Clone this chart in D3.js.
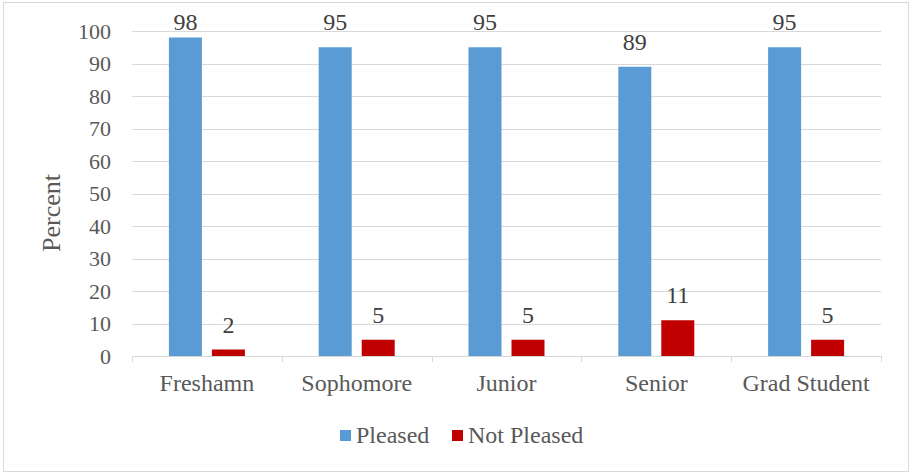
<!DOCTYPE html>
<html><head><meta charset="utf-8">
<script src="https://cdn.jsdelivr.net/npm/d3@7"></script>
<style>body{margin:0;background:#fff}svg{display:block}</style>
</head><body>
<svg id="c" width="912" height="474"></svg>
<script>
const categories = ["Freshamn","Sophomore","Junior","Senior","Grad Student"];
const pleased = [98,95,95,89,95];
const notPleased = [2,5,5,11,5];
const seriesNames = ["Pleased","Not Pleased"];
const yTicks = [0,10,20,30,40,50,60,70,80,90,100];

const colors = ["#5B9BD5","#C00000"];
const font = "'Liberation Serif','Times New Roman',serif";
const svg = d3.select("#c");
svg.append("rect").attr("x",3.5).attr("y",2.5).attr("width",905).attr("height",469)
  .attr("fill","#fff").attr("stroke","#D9D9D9").attr("stroke-width",1);

const L=132,R=881,T=31,B=356;
const x = d3.scaleBand().domain(categories).range([L,R]);
const y = d3.scaleLinear().domain([0,100]).range([B,T]);
const barW=33, gap=10;
const off = (x.bandwidth()-(2*barW+gap))/2;

// grid
svg.append("g").selectAll("line").data(yTicks.filter(d=>d>0)).join("line")
  .attr("x1",L).attr("x2",R).attr("y1",d=>Math.round(y(d))+0.5).attr("y2",d=>Math.round(y(d))+0.5)
  .attr("stroke","#D9D9D9").attr("stroke-width",1);

// y axis labels
const ya = svg.append("g").attr("transform",`translate(${L},0)`)
  .call(d3.axisLeft(y).tickValues(yTicks).tickSize(0).tickPadding(21));
ya.select(".domain").remove();
ya.selectAll("text").attr("font-family",font).attr("font-size",22).attr("fill","#595959");

// bars
const data = categories.map((c,i)=>({c,vals:[pleased[i],notPleased[i]]}));
const g = svg.append("g");
data.forEach(d=>{
  d.vals.forEach((v,j)=>{
    const bx = x(d.c)+off+j*(barW+gap);
    g.append("rect").attr("x",bx).attr("y",y(v)).attr("width",barW).attr("height",B-y(v)).attr("fill",colors[j]);
    g.append("text").attr("x",bx+barW/2).attr("y",Math.max(30,y(v)-17)).attr("text-anchor","middle")
      .attr("font-family",font).attr("font-size",24).attr("fill","#404040").text(v);
  });
});

// x axis
const xa = svg.append("g").attr("transform",`translate(0,${B})`)
  .call(d3.axisBottom(x).tickSize(0).tickPadding(0));
xa.select(".domain").attr("stroke","#D9D9D9").attr("d",`M${L},0.5H${R}`);
xa.selectAll("text").attr("font-family",font).attr("font-size",24).attr("fill","#595959")
  .attr("dy",null).attr("y",35);
const bounds = categories.map(c=>x(c)).concat([R]);
svg.append("g").selectAll("line").data(bounds).join("line")
  .attr("x1",d=>Math.round(d)+0.5).attr("x2",d=>Math.round(d)+0.5).attr("y1",B).attr("y2",B+6)
  .attr("stroke","#D9D9D9");

// y title
svg.append("text").attr("transform","translate(60,213) rotate(-90)").attr("text-anchor","middle")
  .attr("font-family",font).attr("font-size",26).attr("fill","#595959").text("Percent");

// legend
const leg = svg.append("g");
const lx=[340,452];
seriesNames.forEach((n,i)=>{
  leg.append("rect").attr("x",lx[i]).attr("y",430).attr("width",11).attr("height",11).attr("fill",colors[i]);
  leg.append("text").attr("x",lx[i]+16).attr("y",443).attr("font-family",font).attr("font-size",24)
    .attr("fill","#595959").text(n);
});
</script>
</body></html>
